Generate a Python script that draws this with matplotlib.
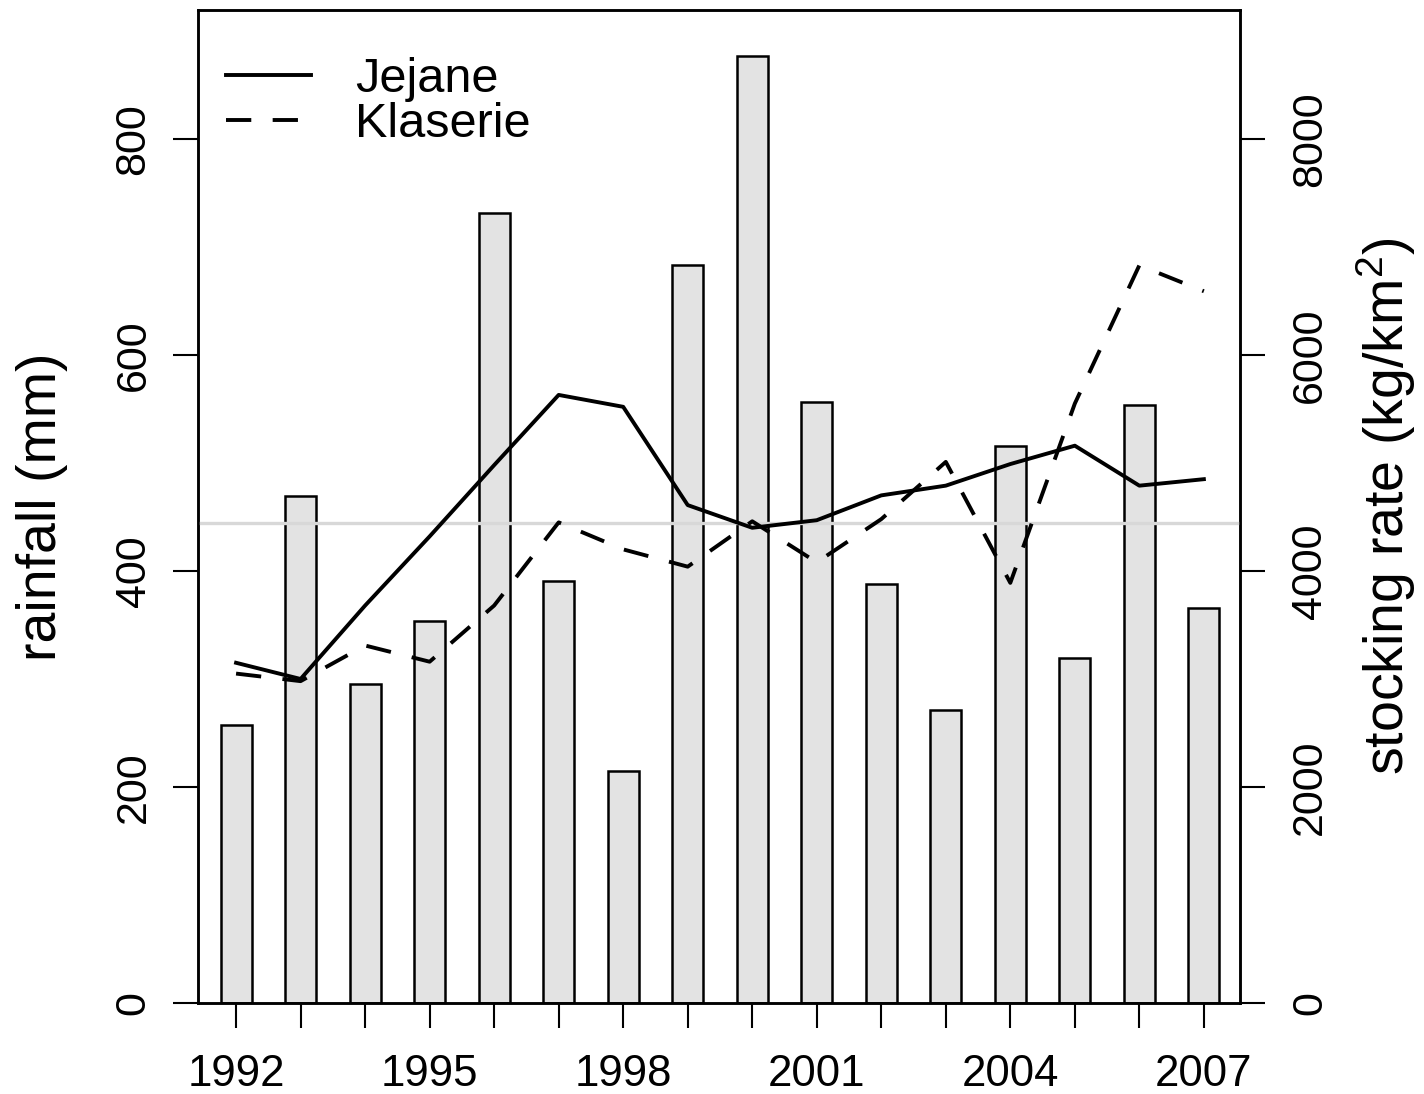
import matplotlib
matplotlib.use('Agg')
import matplotlib.pyplot as plt

plt.rcParams['font.family'] = ['Liberation Sans', 'DejaVu Sans']
plt.rcParams['mathtext.fontset'] = 'custom'
plt.rcParams['mathtext.rm'] = 'Liberation Sans'
plt.rcParams['mathtext.it'] = 'Liberation Sans'

years = list(range(1992, 2008))
rainfall = [257, 469, 295, 354, 731, 391, 215, 683, 877, 556, 388, 271, 516, 319, 554, 366]
jejane = [3150, 3000, 3680, 4320, 4980, 5630, 5520, 4610, 4400, 4470, 4700, 4790, 4990, 5160, 4790, 4850]
klaserie = [3050, 2980, 3310, 3160, 3680, 4450, 4200, 4040, 4460, 4080, 4480, 5010, 3890, 5550, 6830, 6590]
mean_rainfall = 444
x_labeled = [1992, 1995, 1998, 2001, 2004, 2007]
left_ticks = [0, 200, 400, 600, 800]
right_ticks = [0, 2000, 4000, 6000, 8000]

fig = plt.figure(figsize=(14.24, 10.94), dpi=100)
ax = fig.add_axes([198/1424, 91/1094, 1042/1424, 993/1094])
ax2 = ax.twinx()

ax.bar(years, rainfall, width=0.48, color='#e3e3e3', edgecolor='black', linewidth=1.8, zorder=2)
ax.axhline(mean_rainfall, color='#d8d8d8', linewidth=2.4, zorder=3)
ax.set_xlim(1991.41, 2007.56)
ax.set_ylim(0, 919.4)
ax2.set_ylim(0, 9194)

ax2.plot(years, jejane, color='black', linewidth=2.8, label='Jejane', zorder=4)
ax2.plot(years, klaserie, color='black', linewidth=2.8, dashes=(6.5, 5.5), label='Klaserie', zorder=4)

ax.set_xticks(years)
ax.set_xticklabels([str(y) if y in x_labeled else '' for y in years])
ax.set_yticks(left_ticks)
ax2.set_yticks(right_ticks)

for a in (ax, ax2):
    for s in a.spines.values():
        s.set_linewidth(1.8)
ax.tick_params(axis='x', length=18, width=1.5, labelsize=31.5, pad=19)
ax.tick_params(axis='y', length=18, width=1.5, labelsize=31, pad=14)
ax2.tick_params(axis='y', length=18, width=1.5, labelsize=31, pad=18)
for lab in ax.get_yticklabels():
    lab.set_rotation(90)
    lab.set_va('center')
for lab in ax2.get_yticklabels():
    lab.set_rotation(90)
    lab.set_va('center')

ax.set_ylabel('rainfall (mm)', fontsize=40)
ax.yaxis.set_label_coords(-0.1497, 0.5)
ax.yaxis.label.set_va('center')
ax2.set_ylabel('stocking rate (kg/km$^2$)', fontsize=40)
ax2.yaxis.set_label_coords(1.140, 0.5)
ax2.yaxis.label.set_va('center')

leg = ax2.legend(loc='upper left', bbox_to_anchor=(0.027, 0.953), frameon=False,
                 fontsize=35, handlelength=1.75, handletextpad=0.9,
                 labelspacing=0.0, borderpad=0, borderaxespad=0)

fig.savefig('out.png', dpi=100)
